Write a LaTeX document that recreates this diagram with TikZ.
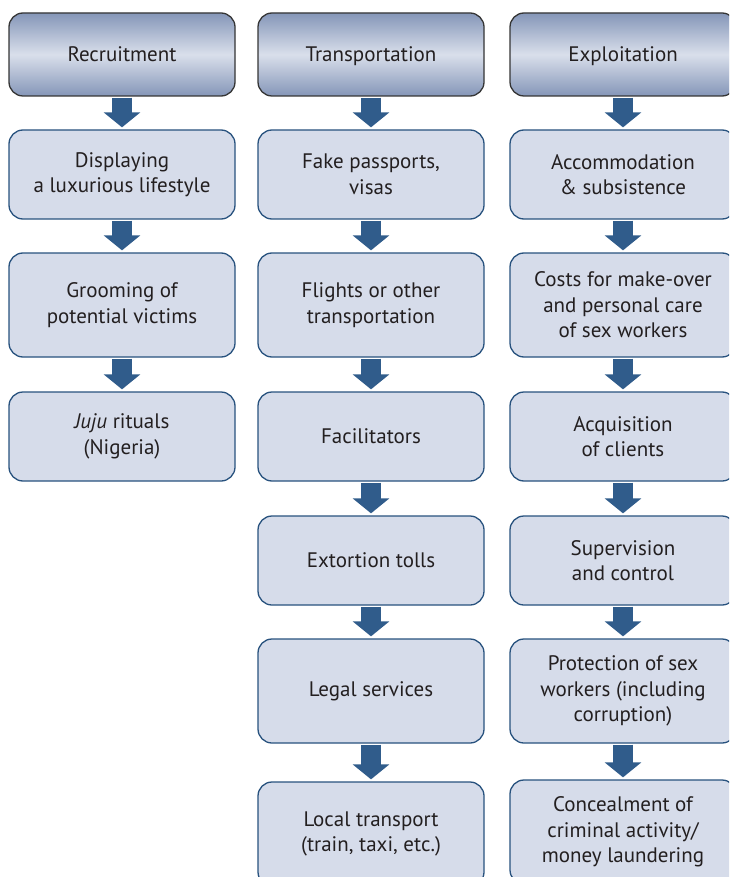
\documentclass[tikz,border=0pt]{standalone}
\usepackage{fontspec}
\setmainfont{PT Sans}
\usetikzlibrary{arrows.meta}
\definecolor{boxfill}{HTML}{D6DCEA}
\definecolor{boxline}{HTML}{28527E}
\definecolor{arrowc}{HTML}{305C8B}
\definecolor{hdark}{HTML}{8596B8}
\definecolor{hlight}{HTML}{D9DFEB}
\definecolor{hline}{HTML}{353535}
\definecolor{txt}{HTML}{231F20}
\tikzset{
  card/.style={rounded corners=14pt, draw=boxline, line width=1.3pt, fill=boxfill,
    minimum width=226pt, align=center, text=txt, inner sep=0pt,
    font=\fontsize{21}{25.5}\selectfont},
  hdr/.style={card, draw=hline, top color=hdark, bottom color=hdark, middle color=hlight,
    minimum height=83pt, text height=17pt, text depth=2pt},
  rowA/.style={minimum height=89pt},
  rowB/.style={minimum height=104pt},
  flow/.style={draw=arrowc, line width=20pt, line cap=butt,
    -{Triangle[width=36pt,length=15pt]}, shorten <=1pt, shorten >=2pt}
}
\begin{document}
\begin{tikzpicture}[x=1pt,y=-1pt]
\useasboundingbox (0,0) rectangle (729,877);
\clip (0,0) rectangle (729,877);
% column 1
\node[hdr] (h1) at (122,54.5) {Recruitment};
\node[card,rowA] (a1) at (122,174.5) {Displaying\\a luxurious lifestyle};
\node[card,rowB] (a2) at (122,305) {Grooming of\\potential victims};
\node[card,rowA] (a3) at (122,436.5) {\textit{Juju} rituals\\(Nigeria)};
% column 2
\node[hdr] (h2) at (371,54.5) {Transportation};
\node[card,rowA] (b1) at (371,174.5) {Fake passports,\\visas};
\node[card,rowB] (b2) at (371,305) {Flights or other\\transportation};
\node[card,rowA] (b3) at (371,436.5) {Facilitators};
\node[card,rowA] (b4) at (371,560.5) {Extortion tolls};
\node[card,rowB] (b5) at (371,691) {Legal services};
\node[card,rowB] (b6) at (371,834) {Local transport\\(train, taxi, etc.)};
% column 3
\node[hdr] (h3) at (623,54.5) {Exploitation};
\node[card,rowA] (c1) at (623,174.5) {Accommodation\\\&~subsistence};
\node[card,rowB] (c2) at (623,305) {Costs for make-over\\and personal care\\of sex workers};
\node[card,rowA] (c3) at (623,436.5) {Acquisition\\of clients};
\node[card,rowA] (c4) at (623,560.5) {Supervision\\and control};
\node[card,rowB] (c5) at (623,691) {Protection of sex\\workers (including\\corruption)};
\node[card,rowB] (c6) at (623,832) {Concealment of\\criminal activity/\\money laundering};
% arrows
\draw[flow] (h1) -- (a1);
\draw[flow] (a1) -- (a2);
\draw[flow] (a2) -- (a3);
\draw[flow] (h2) -- (b1);
\draw[flow] (b1) -- (b2);
\draw[flow] (b2) -- (b3);
\draw[flow] (b3) -- (b4);
\draw[flow] (b4) -- (b5);
\draw[flow] (b5) -- (b6);
\draw[flow] (h3) -- (c1);
\draw[flow] (c1) -- (c2);
\draw[flow] (c2) -- (c3);
\draw[flow] (c3) -- (c4);
\draw[flow] (c4) -- (c5);
\draw[flow] (c5) -- (c6);
\end{tikzpicture}
\end{document}
